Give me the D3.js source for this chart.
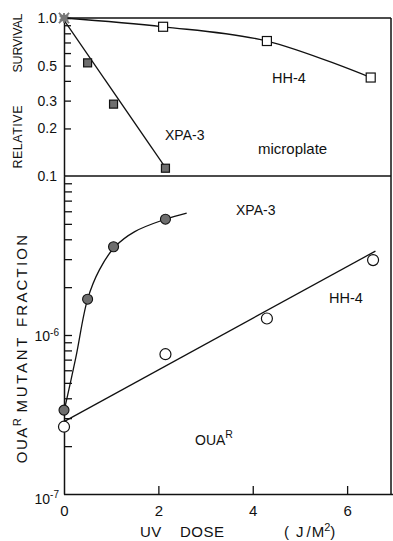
<!DOCTYPE html>
<html>
<head>
<meta charset="utf-8">
<script src="https://cdn.jsdelivr.net/npm/d3@7"></script>
<style>
  html, body { margin: 0; padding: 0; background: #fff; }
  svg { display: block; }
  text { font-family: "Liberation Sans", Arial, sans-serif; fill: #111; }
</style>
</head>
<body>
<svg id="chart" width="393" height="541"></svg>
<script>
// UV dose (J/m^2) axis
const doseTicks = [0, 2, 4, 6];

// Relative survival (microplate assay)
const survivalTicks = [1, 0.9, 0.8, 0.7, 0.6, 0.5, 0.4, 0.3, 0.2];
const survivalLabels = ["1.0", "0.5", "0.3", "0.2", "0.1"];
const survivalLabelValues = [1, 0.5, 0.3, 0.2, 0.1];
const survivalOrigin = [0, 1.0];
const xpaSurvDose = [0.5, 1.05, 2.15];
const xpaSurv = [0.52, 0.285, 0.112];
const hhSurvDose = [2.1, 4.3, 6.5];
const hhSurv = [0.88, 0.715, 0.42];
const xpaSurvFitDose = [0, 2.15];
const xpaSurvFit = [0.97, 0.113];

// OUA^R mutant fraction
const mutantTicks = [2e-7, 3e-7, 4e-7, 5e-7, 6e-7, 7e-7, 8e-7, 9e-7, 1e-6,
                     2e-6, 3e-6, 4e-6, 5e-6, 6e-6, 7e-6, 8e-6, 9e-6];
const mutantLabelValues = [1e-6, 1e-7];
const mutantLabelExp = ["-6", "-7"];
const xpaMutDose = [0, 0.5, 1.05, 2.15];
const xpaMut = [3.37e-7, 1.68e-6, 3.59e-6, 5.35e-6];
const xpaMutFitDose = [0, 0.25, 0.5, 0.75, 1.08, 1.5, 2.15, 2.6];
const xpaMutFit = [3.3e-7, 7.2e-7, 1.68e-6, 2.57e-6, 3.59e-6, 4.47e-6, 5.35e-6, 5.85e-6];
const hhMutDose = [0, 2.15, 4.3, 6.55];
const hhMut = [2.65e-7, 7.57e-7, 1.27e-6, 2.96e-6];
const hhMutFitDose = [0, 6.6];
const hhMutFit = [2.85e-7, 3.37e-6];

const svg = d3.select("#chart");
const pLeft = 64, pRight = 391, pTop = 18, pMid = 176, pBottom = 494;

const x = d3.scaleLinear().domain([0, 6.93]).range([pLeft, pRight]);
const ySurv = d3.scaleLog().domain([0.1, 1]).range([pMid, pTop]);
const yMut = d3.scaleLog().domain([1e-7, 1e-5]).range([pBottom, pMid]);

const ink = "#111";

// panel frame
const frame = svg.append("g").attr("stroke", ink).attr("stroke-width", 1.5).attr("fill", "none");
frame.append("line").attr("x1", pLeft).attr("x2", pRight).attr("y1", pTop).attr("y2", pTop);
frame.append("line").attr("x1", pLeft).attr("x2", pRight).attr("y1", pMid).attr("y2", pMid);
frame.append("line").attr("x1", pRight).attr("x2", pRight).attr("y1", pTop).attr("y2", pBottom);

function styleAxis(g) {
  g.select(".domain").attr("stroke", ink).attr("stroke-width", 1.5);
  g.selectAll(".tick line").attr("stroke", ink).attr("stroke-width", 1.3);
  g.selectAll(".tick text").attr("fill", ink).style("font-family", '"Liberation Sans", Arial, sans-serif');
}

// survival axis: inward ticks, sparse labels
const survAll = survivalTicks.concat([0.1]);
const survAxis = d3.axisLeft(ySurv)
  .tickValues(survAll)
  .tickSize(-7).tickSizeOuter(0).tickPadding(7)
  .tickFormat(v => {
    const i = survivalLabelValues.indexOf(v);
    return i >= 0 ? survivalLabels[i] : "";
  });
const survG = svg.append("g").attr("transform", `translate(${pLeft},0)`).call(survAxis).call(styleAxis);
survG.selectAll(".tick text").style("font-size", "14px");
survG.selectAll(".tick").filter(d => d === 0.1).select("line").remove();

// mutant fraction axis
const mutAll = [1e-7].concat(mutantTicks);
const mutAxis = d3.axisLeft(yMut)
  .tickValues(mutAll)
  .tickSize(-8).tickSizeOuter(0).tickPadding(5)
  .tickFormat(() => "");
const mutG = svg.append("g").attr("transform", `translate(${pLeft},0)`).call(mutAxis).call(styleAxis);
mutG.selectAll(".tick").filter(d => d === 1e-7).select("line").remove();
mutG.selectAll(".tick").each(function(d) {
  const i = mutantLabelValues.findIndex(v => Math.abs(v - d) / v < 1e-6);
  if (i < 0) return;
  const t = d3.select(this).select("text")
    .attr("x", -5).attr("dy", i === 1 ? "0.65em" : "0.4em")
    .style("font-size", "14px");
  t.text("");
  t.append("tspan").text("10");
  t.append("tspan").attr("dy", "-0.55em").style("font-size", "10px").text(mutantLabelExp[i]);
});

// dose axis
const xAxis = d3.axisBottom(x)
  .tickValues(doseTicks)
  .tickSize(-8).tickSizeOuter(0).tickPadding(11)
  .tickFormat(d3.format("d"));
const xG = svg.append("g").attr("transform", `translate(0,${pBottom})`).call(xAxis).call(styleAxis);
xG.selectAll(".tick text").style("font-size", "15px");
xG.selectAll(".tick").filter(d => d === 0).select("line").remove();
xG.select(".domain").attr("d", `M${pLeft},0.5H${pRight + 2}`);

// axis titles
svg.append("text").attr("x", 140).attr("y", 537).style("font-size", "15px").style("letter-spacing", "0.5px").text("UV");
svg.append("text").attr("x", 180).attr("y", 537).style("font-size", "15px").style("letter-spacing", "0.5px").text("DOSE");
const unit = svg.append("text").attr("x", 284).attr("y", 537).style("font-size", "15px");
unit.append("tspan").text("(");
unit.append("tspan").attr("dx", 7).text("J");
unit.append("tspan").attr("dx", 3).text("/");
unit.append("tspan").attr("dx", 1).text("M");
unit.append("tspan").attr("dy", -6).style("font-size", "11px").text("2");
unit.append("tspan").attr("dy", 6).text(")");

// rotated y titles, one word at a time
const vword = (bx, cy, s, size, len) => svg.append("text")
  .attr("transform", `translate(${bx},${cy}) rotate(-90)`)
  .attr("text-anchor", "middle")
  .attr("textLength", len).attr("lengthAdjust", "spacing")
  .style("font-size", size + "px")
  .text(s);
vword(22, 137, "RELATIVE", 12.5, 63);
vword(22, 43, "SURVIVAL", 12.5, 59);
vword(27, 281, "FRACTION", 15, 92);
vword(27, 375, "MUTANT", 15, 75);
const ouaTitle = svg.append("text")
  .attr("transform", "translate(27,440) rotate(-90)")
  .attr("text-anchor", "middle")
  .style("font-size", "15px").style("letter-spacing", "1.5px");
ouaTitle.append("tspan").text("OUA");
ouaTitle.append("tspan").attr("dy", -6).style("font-size", "11px").text("R");

// fitted curves
const curves = svg.append("g").attr("fill", "none").attr("stroke", ink).attr("stroke-width", 1.3);
const pairs = (xs, ys) => xs.map((d, i) => [d, ys[i]]);

curves.append("path")
  .attr("d", d3.line().x(d => x(d[0])).y(d => ySurv(d[1]))(pairs(xpaSurvFitDose, xpaSurvFit)));
curves.append("path")
  .attr("d", d3.line().curve(d3.curveCatmullRom).x(d => x(d[0])).y(d => ySurv(d[1]))(
    [survivalOrigin].concat(pairs(hhSurvDose, hhSurv))));
curves.append("path")
  .attr("d", d3.line().curve(d3.curveCatmullRom).x(d => x(d[0])).y(d => yMut(d[1]))(
    pairs(xpaMutFitDose, xpaMutFit)));
curves.append("path")
  .attr("d", d3.line().x(d => x(d[0])).y(d => yMut(d[1]))(pairs(hhMutFitDose, hhMutFit)));

// survival markers
const sq = 8;
svg.append("g").selectAll("rect").data(pairs(xpaSurvDose, xpaSurv)).join("rect")
  .attr("x", d => x(d[0]) - sq / 2).attr("y", d => ySurv(d[1]) - sq / 2)
  .attr("width", sq).attr("height", sq)
  .attr("fill", "#6e6e6e").attr("stroke", ink).attr("stroke-width", 1.2);
svg.append("g").selectAll("rect").data(pairs(hhSurvDose, hhSurv)).join("rect")
  .attr("x", d => x(d[0]) - 4.5).attr("y", d => ySurv(d[1]) - 4.5)
  .attr("width", 9).attr("height", 9)
  .attr("fill", "#fff").attr("stroke", ink).attr("stroke-width", 1.2);

// shared origin point
const star = svg.append("g")
  .attr("transform", `translate(${x(survivalOrigin[0])},${ySurv(survivalOrigin[1])})`);
star.append("circle").attr("r", 3.5).attr("fill", "#777");
[d3.symbolAsterisk, d3.symbolTimes].forEach(s => {
  star.append("path").attr("d", d3.symbol(s, 70)())
    .attr("fill", "none").attr("stroke", "#777").attr("stroke-width", 1.8);
});

// mutant markers
svg.append("g").selectAll("circle").data(pairs(xpaMutDose, xpaMut)).join("circle")
  .attr("cx", d => x(d[0])).attr("cy", d => yMut(d[1])).attr("r", 5)
  .attr("fill", "#6e6e6e").attr("stroke", ink).attr("stroke-width", 1.1);
svg.append("g").selectAll("circle").data(pairs(hhMutDose, hhMut)).join("circle")
  .attr("cx", d => x(d[0])).attr("cy", d => yMut(d[1])).attr("r", 5.5)
  .attr("fill", "#fff").attr("stroke", ink).attr("stroke-width", 1.2);

// annotations
const note = (tx, ty, s, size) => svg.append("text").attr("x", tx).attr("y", ty)
  .style("font-size", size + "px").text(s);
note(272, 83, "HH-4", 14.5);
note(165, 140, "XPA-3", 14);
note(258, 154, "microplate", 15);
note(236, 215, "XPA-3", 14);
note(329, 303, "HH-4", 14.5);
const oua = svg.append("text").attr("x", 195).attr("y", 445).style("font-size", "14px");
oua.append("tspan").text("OUA");
oua.append("tspan").attr("dy", -7).style("font-size", "10.5px").text("R");
</script>
</body>
</html>
